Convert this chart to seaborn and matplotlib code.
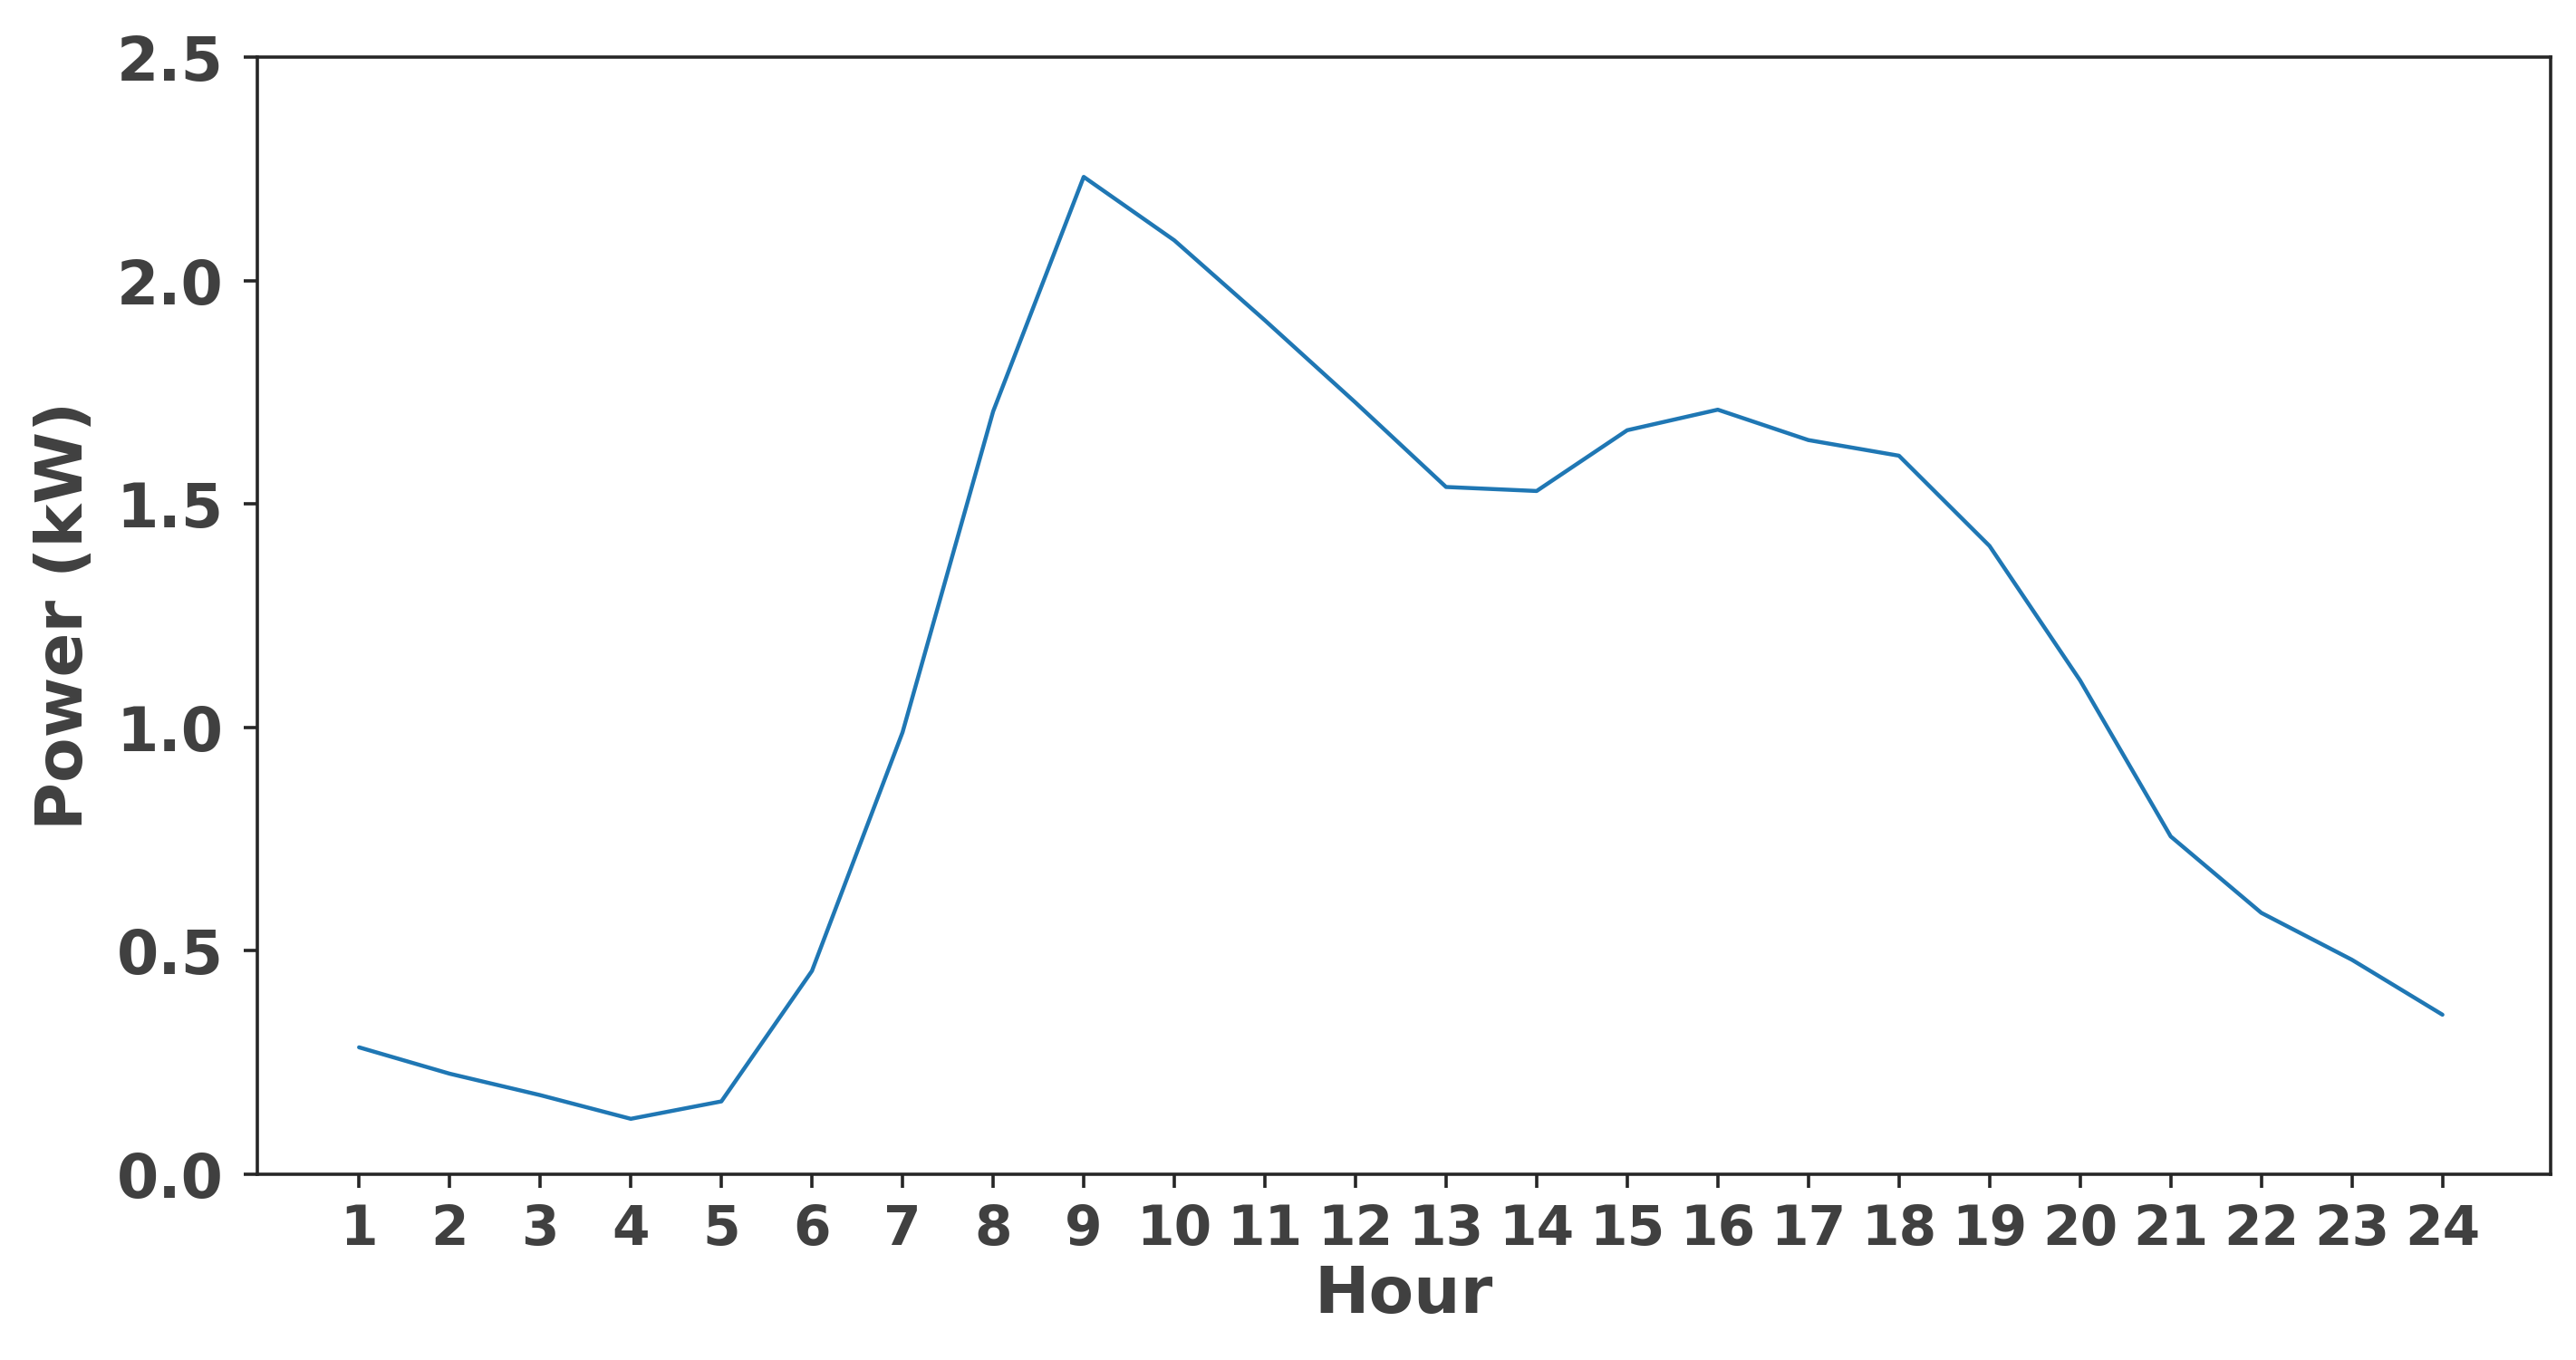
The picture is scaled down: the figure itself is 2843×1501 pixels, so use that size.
import matplotlib
matplotlib.use("Agg")
import matplotlib.pyplot as plt
import seaborn as sns
import pandas as pd

# hourly power profile
hours = list(range(1, 25))
power_kw = [0.284, 0.225, 0.177, 0.124, 0.163, 0.455, 0.989, 1.707, 2.232, 2.090,
            1.911, 1.727, 1.538, 1.529, 1.665, 1.711, 1.643, 1.608, 1.406, 1.105,
            0.756, 0.585, 0.480, 0.357]
y_ticks = [0.0, 0.5, 1.0, 1.5, 2.0, 2.5]

df = pd.DataFrame({"Hour": hours, "Power (kW)": power_kw})

sns.set_style("ticks")
plt.rcParams['font.family'] = ['DejaVu Sans']
text_col = "#404040"

fig = plt.figure(figsize=(14.215, 7.505), dpi=200)
ax = fig.add_axes([0.1, 0.1366, 0.890, 0.8214])

sns.lineplot(data=df, x="Hour", y="Power (kW)", ax=ax, color="#1f77b4", linewidth=1.6)

ax.set_xlim(-0.12, 25.19)
ax.set_ylim(0, 2.5)
ax.set_xticks(hours)
ax.set_yticks(y_ticks)
ax.set_yticklabels([f"{v:.1f}" for v in y_ticks])

for side in ["top", "right", "left", "bottom"]:
    ax.spines[side].set_visible(True)
    ax.spines[side].set_color("#262626")
    ax.spines[side].set_linewidth(1.3)

ax.tick_params(axis="both", direction="out", length=5.5, width=1.3, color="#262626",
               labelcolor=text_col)
ax.tick_params(axis="y", pad=8, labelsize=24)
ax.tick_params(axis="x", pad=6, labelsize=21.5)
for lab in ax.get_xticklabels() + ax.get_yticklabels():
    lab.set_fontweight("bold")

ax.set_xlabel("Hour", fontsize=26, fontweight="bold", color=text_col, labelpad=3)
ax.set_ylabel("Power (kW)", fontsize=26, fontweight="bold", color=text_col, labelpad=8)

fig.savefig("out.png", dpi=200)
